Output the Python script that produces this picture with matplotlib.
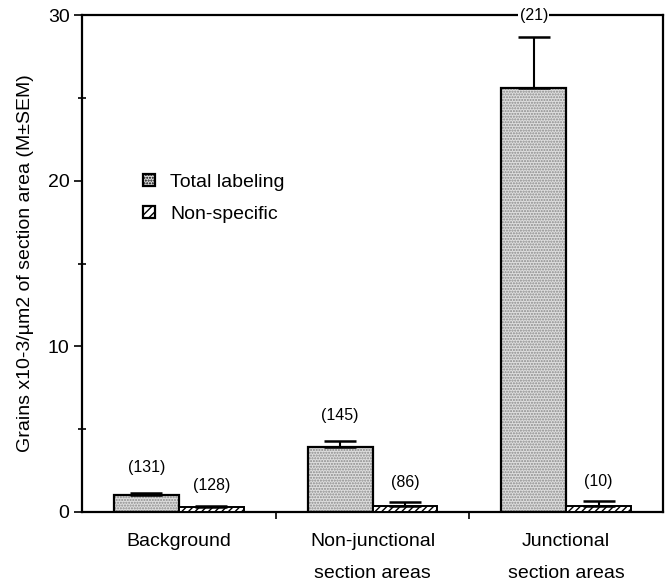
import matplotlib
matplotlib.use("Agg")
import matplotlib.pyplot as plt
from matplotlib.patches import Patch
import numpy as np

plt.rcParams['font.family'] = ['Liberation Sans', 'DejaVu Sans']
plt.rcParams['hatch.linewidth'] = 1.0

# ---- data ----
categories = ["Background", "Non-junctional\nsection areas", "Junctional\nsection areas"]
total_mean = [1.0, 3.9, 25.6]
total_sem = [0.15, 0.4, 3.1]
nonspec_mean = [0.3, 0.35, 0.35]
nonspec_sem = [0.07, 0.25, 0.3]
total_n = ["(131)", "(145)", "(21)"]
nonspec_n = ["(128)", "(86)", "(10)"]
series_names = ["Total labeling", "Non-specific"]
yticks = [0, 10, 20, 30]

fig = plt.figure(figsize=(6.70, 5.84), dpi=100)
ax = fig.add_axes([0.1224, 0.1233, 0.8672, 0.851])

x = np.arange(len(categories))
w = 0.335

# total labeling bars (stippled)
ax.bar(x - w / 2, total_mean, w, color='#dedede', edgecolor='#8a8a8a',
       hatch='......', linewidth=0, zorder=2)
ax.bar(x - w / 2, total_mean, w, fill=False, edgecolor='black',
       linewidth=1.6, zorder=3)
# non-specific bars (hatched)
ax.bar(x + w / 2, nonspec_mean, w, color='white', edgecolor='black',
       hatch='/////', linewidth=1.4, zorder=3)

ax.errorbar(x - w / 2, total_mean, yerr=[np.zeros(3), total_sem], fmt='none',
            ecolor='black', elinewidth=1.5, capsize=11.5, capthick=1.8, zorder=4)
ax.errorbar(x + w / 2, nonspec_mean, yerr=[np.zeros(3), nonspec_sem], fmt='none',
            ecolor='black', elinewidth=1.5, capsize=11.5, capthick=1.8, zorder=4)

ymax = yticks[-1]
for xi, m, s, lab in zip(x - w / 2, total_mean, total_sem, total_n):
    yy = min(m + s + 1.55, ymax)
    ax.text(xi, yy, lab, ha='center', va='center', fontsize=11.5, zorder=6,
            bbox=dict(facecolor='white', edgecolor='none', pad=1) if yy >= ymax else None,
            clip_on=False)
for xi, m, s, lab in zip(x + w / 2, nonspec_mean, nonspec_sem, nonspec_n):
    yy = min(m + s + 1.2, ymax)
    ax.text(xi, yy, lab, ha='center', va='center', fontsize=11.5, zorder=6)

ax.set_xlim(-0.5, 2.5)
ax.set_ylim(0, ymax)
ax.set_yticks(yticks)
ax.set_yticks([5, 15, 25], minor=True)
ax.tick_params(axis='y', which='major', direction='out', length=6, width=1.2,
               labelsize=14, pad=3)
ax.tick_params(axis='y', which='minor', direction='inout', length=6, width=1.2)
ax.set_xticks(x)
ax.set_xticklabels(categories, fontsize=14, linespacing=2.2)
ax.set_xticks([0.5, 1.5], minor=True)
ax.tick_params(axis='x', which='major', length=0, pad=15)
ax.tick_params(axis='x', which='minor', direction='out', length=5, width=1.2)

for sp in ax.spines.values():
    sp.set_linewidth(1.6)

ax.set_ylabel("Grains x10-3/µm2 of section area (M±SEM)", fontsize=14, labelpad=10)

handles = [Patch(facecolor='#dedede', edgecolor='black', hatch='......', linewidth=1.6),
           Patch(facecolor='white', edgecolor='black', hatch='////', linewidth=1.6)]
ax.legend(handles, series_names, loc='upper left', bbox_to_anchor=(0.105, 0.68),
          frameon=False, fontsize=14, handlelength=0.6, handleheight=0.6,
          handletextpad=0.8, labelspacing=0.75, borderpad=0, borderaxespad=0)

fig.savefig("out.png", dpi=100)
